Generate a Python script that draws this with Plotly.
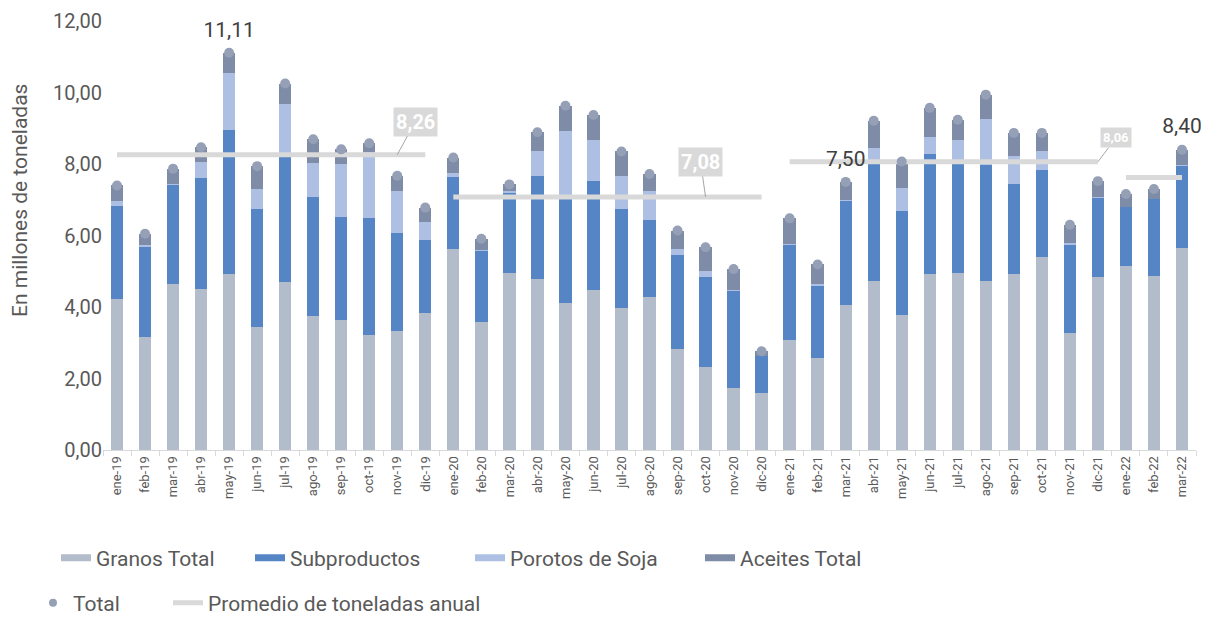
import plotly.graph_objects as go

meses = ["ene-19","feb-19","mar-19","abr-19","may-19","jun-19","jul-19","ago-19","sep-19","oct-19","nov-19","dic-19",
         "ene-20","feb-20","mar-20","abr-20","may-20","jun-20","jul-20","ago-20","sep-20","oct-20","nov-20","dic-20",
         "ene-21","feb-21","mar-21","abr-21","may-21","jun-21","jul-21","ago-21","sep-21","oct-21","nov-21","dic-21",
         "ene-22","feb-22","mar-22"]

granos = [4.22,3.15,4.65,4.49,4.91,3.44,4.69,3.74,3.64,3.22,3.33,3.82,
          5.62,3.57,4.95,4.77,4.11,4.47,3.98,4.28,2.83,2.31,1.73,1.60,
          3.08,2.58,4.05,4.73,3.78,4.92,4.96,4.72,4.92,5.39,3.28,4.84,
          5.14,4.87,5.65]
subproductos = [2.61,2.54,2.78,3.12,4.04,3.29,3.62,3.33,2.89,3.28,2.73,2.05,
                2.01,2.00,2.25,2.90,2.94,3.06,2.77,2.14,2.62,2.54,2.73,1.02,
                2.66,2.03,2.93,3.28,2.91,3.37,3.05,3.24,2.53,2.45,2.48,2.22,
                1.66,2.14,2.31]
porotos = [0.14,0.05,0.02,0.45,1.59,0.58,1.36,0.96,1.46,1.83,1.18,0.50,
           0.12,0.03,0.04,0.68,1.88,1.15,0.91,0.83,0.18,0.17,0.02,0.00,
           0.01,0.04,0.02,0.43,0.64,0.46,0.65,1.30,0.77,0.52,0.02,0.03,
           0.00,0.00,0.02]
aceites = [0.43,0.31,0.42,0.41,0.57,0.63,0.58,0.66,0.42,0.25,0.43,0.41,
           0.43,0.31,0.19,0.54,0.70,0.69,0.69,0.47,0.51,0.65,0.58,0.14,
           0.73,0.54,0.50,0.77,0.74,0.82,0.58,0.68,0.65,0.51,0.52,0.43,
           0.36,0.29,0.42]

total = [round(a + b + c + d, 2) for a, b, c, d in zip(granos, subproductos, porotos, aceites)]

# Promedio anual
prom_inicio = ["ene-19", "ene-20", "ene-21", "ene-22"]
prom_fin = ["dic-19", "dic-20", "dic-21", "mar-22"]
prom_valor = [8.26, 7.08, 8.06, 7.62]

# Etiquetas de total mostradas
etiquetas_total = ["may-19", "mar-21", "mar-22"]

C_GRANOS = "#B3BCCB"
C_SUB = "#5585C5"
C_POR = "#ADC0E4"
C_ACE = "#7F8CA7"
C_DOT = "#95A0B6"
C_PROM = "#D9D9D9"
TXT = "#595959"
FONT = "Roboto"

# page offset (body margin) compensation
OFF = 8
W, H = 1209 - OFF, 617 - OFF
L, R, T, B = 95, 13, 13, 167
pw, ph = W - L - R, H - T - B


def px_x(page_x):
    return (page_x - OFF - L) / pw


def px_y(page_y):
    return (H - B - (page_y - OFF)) / ph


fig = go.Figure()

series = [("Granos Total", granos, C_GRANOS), ("Subproductos", subproductos, C_SUB),
          ("Porotos de Soja", porotos, C_POR), ("Aceites Total", aceites, C_ACE)]
for name, vals, col in series:
    fig.add_trace(go.Bar(x=meses, y=vals, name=name, marker=dict(color=col, line=dict(width=0)),
                         showlegend=False, hoverinfo="y+name"))

# Average lines
for a, b, v in zip(prom_inicio, prom_fin, prom_valor):
    fig.add_trace(go.Scatter(x=[a, b], y=[v, v], mode="lines",
                             line=dict(color=C_PROM, width=5),
                             showlegend=False, hoverinfo="y"))

# Total dots
fig.add_trace(go.Scatter(x=meses, y=total, mode="markers", marker=dict(color=C_DOT, size=10),
                         showlegend=False, name="Total"))

# Total labels
lab_x = list(etiquetas_total)
lab_y = [total[meses.index(m)] for m in etiquetas_total]
fig.add_trace(go.Scatter(x=lab_x, y=lab_y, mode="markers+text",
                         marker=dict(size=16, opacity=0), cliponaxis=False,
                         text=[f"{v:.2f}".replace(".", ",") for v in lab_y],
                         textposition="top center", textfont=dict(size=21, color="#404040", family=FONT),
                         showlegend=False, hoverinfo="skip"))

# Legend entries, each in its own legend box for placement
legend_items = [
    ("Granos Total", dict(mode="lines", line=dict(color=C_GRANOS, width=7)), 56, 558),
    ("Subproductos", dict(mode="lines", line=dict(color=C_SUB, width=7)), 250, 558),
    ("Porotos de Soja", dict(mode="lines", line=dict(color=C_POR, width=7)), 470, 558),
    ("Aceites Total", dict(mode="lines", line=dict(color=C_ACE, width=7)), 700, 558),
    ("Total", dict(mode="markers", marker=dict(color=C_DOT, size=8)), 33, 603),
    ("Promedio de toneladas anual", dict(mode="lines", line=dict(color=C_PROM, width=5)), 168, 603),
]
legend_layout = {}
for i, (name, style, lx, ly) in enumerate(legend_items):
    key = "legend" if i == 0 else f"legend{i + 1}"
    fig.add_trace(go.Scatter(x=[None], y=[None], name=name, legend=key, **style))
    legend_layout[key] = dict(orientation="h", x=px_x(lx), y=px_y(ly), xanchor="left", yanchor="middle",
                              font=dict(size=21, color=TXT, family=FONT), bgcolor="rgba(0,0,0,0)")

# Average value boxes
box_pos = [("nov-19", 18, -33, 20), ("oct-20", -5, -35, 20), ("dic-21", 18, -24, 13)]
for (xc, ax, ay, fs), v in zip(box_pos, prom_valor[:3]):
    fig.add_annotation(x=xc, y=v, ax=ax, ay=ay, axref="pixel", ayref="pixel",
                       text=f"<b>{v:.2f}</b>".replace(".", ","), showarrow=True, arrowhead=0,
                       arrowwidth=1, arrowcolor="#A6A6A6", bgcolor=C_PROM, borderpad=2,
                       font=dict(size=fs, color="white", family=FONT))

fig.add_annotation(x=px_x(20), y=px_y(201), xref="paper", yref="paper",
                   xanchor="center", yanchor="middle",
                   text="En millones de toneladas", textangle=-90, showarrow=False,
                   font=dict(size=21, color=TXT, family=FONT))

fig.update_layout(
    width=W, height=H,
    margin=dict(l=L, r=R, t=T, b=B, autoexpand=False),
    barmode="stack", bargap=0.56,
    plot_bgcolor="white", paper_bgcolor="white",
    separators=",.",
    font=dict(family=FONT, color=TXT),
    xaxis=dict(type="category", range=[-0.5, len(meses) - 0.5], tickangle=-90,
               tickfont=dict(size=13, color=TXT),
               showline=True, linecolor="#D9D9D9", linewidth=1,
               ticks="outside", tickson="boundaries", ticklen=5, tickcolor="#D9D9D9",
               showgrid=False, automargin=False),
    yaxis=dict(range=[0, 12], dtick=2, tickformat=".2f", tickfont=dict(size=20, color=TXT),
               showgrid=False, zeroline=False, showline=False, ticks="", automargin=False,
               ticklabeloverflow="allow"),
    showlegend=True,
    **legend_layout,
)

fig.write_html("out.html")
